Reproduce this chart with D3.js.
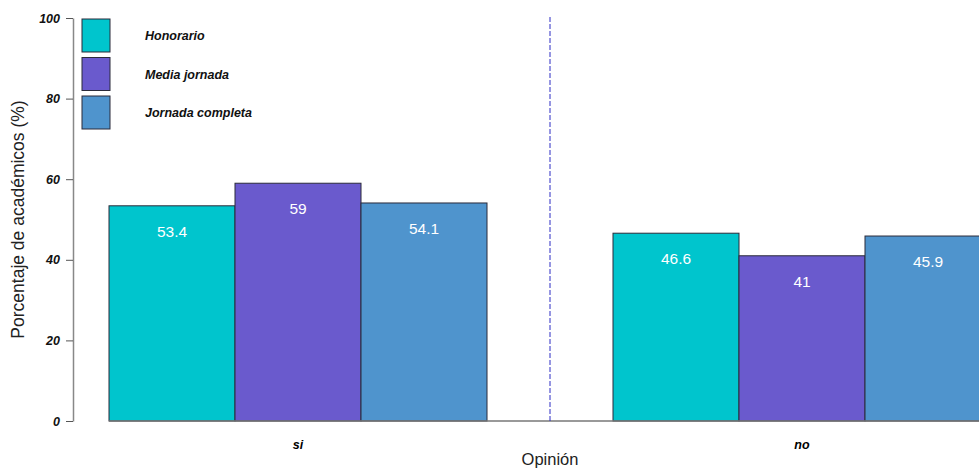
<!DOCTYPE html>
<html>
<head>
<meta charset="utf-8">
<script src="https://cdn.jsdelivr.net/npm/d3@7"></script>
<style>
  body { margin:0; background:#fff; }
  #canvas { width:979px; height:468px; }
  text { font-family: "Liberation Sans", Arial, sans-serif; }
</style>
</head>
<body>
<div id="canvas" class="canvas"></div>
<script>
// data
var opiniones = ['si', 'no'];
var tipos = ['Honorario', 'Media jornada', 'Jornada completa'];
var honorario = [53.4, 46.6];
var mediaJornada = [59, 41];
var jornadaCompleta = [54.1, 45.9];
var yTicks = [0, 20, 40, 60, 80, 100];

var colores = ['#00C5CD', '#6A5ACD', '#4F94CD'];
var series = [honorario, mediaJornada, jornadaCompleta];

var W = 979, H = 468;
var svg = d3.select('.canvas').append('svg')
    .attr('width', W).attr('height', H);

//scales
var scaleY = d3.scaleLinear().domain([0, 100]).range([421, 18]);
var scaleX = d3.scaleBand().domain(opiniones).range([46, 1054])
    .paddingInner(0.25).paddingOuter(0.125);
var scaleSub = d3.scaleBand().domain(tipos).range([0, scaleX.bandwidth()]);

//bars
var rows = [];
opiniones.forEach(function(o, i){
    tipos.forEach(function(t, j){
        rows.push({op:o, tipo:t, val:series[j][i], color:colores[j]});
    });
});

var bars = svg.selectAll('g.bar').data(rows).enter().append('g').attr('class','bar');
bars.append('rect')
    .attr('x', function(d){ return scaleX(d.op) + scaleSub(d.tipo); })
    .attr('y', function(d){ return scaleY(d.val); })
    .attr('width', scaleSub.bandwidth())
    .attr('height', function(d){ return scaleY(0) - scaleY(d.val); })
    .style('fill', function(d){ return d.color; })
    .style('stroke', '#2b2b3a')
    .style('stroke-width', 1);
bars.append('text')
    .attr('x', function(d){ return scaleX(d.op) + scaleSub(d.tipo) + scaleSub.bandwidth()/2; })
    .attr('y', function(d){ return scaleY(d.val) + 31; })
    .attr('text-anchor', 'middle')
    .style('fill', '#fff')
    .style('font-size', '15.5px')
    .text(function(d){ return d.val; });

// baseline (gray)
svg.append('line')
    .attr('x1', scaleX('si')).attr('x2', W)
    .attr('y1', scaleY(0)).attr('y2', scaleY(0))
    .style('stroke', '#777').style('stroke-width', 1.5);

//axis
var axisY = d3.axisLeft(scaleY).tickValues(yTicks).tickSize(7).tickSizeOuter(0);
var gy = svg.append('g').attr('transform', 'translate(73,0)').call(axisY);
gy.select('.domain').style('stroke', '#888').style('stroke-width', 1.5);
gy.selectAll('.tick line').style('stroke', '#555');
gy.selectAll('.tick text')
    .attr('x', -13)
    .style('font-family', '"Liberation Sans", Arial, sans-serif')
    .style('font-size', '12.5px')
    .style('font-weight', 'bold')
    .style('font-style', 'italic')
    .style('fill', '#111');

// category labels
svg.selectAll('text.cat').data(opiniones).enter().append('text')
    .attr('class', 'cat')
    .attr('x', function(d){ return scaleX(d) + scaleX.bandwidth()/2; })
    .attr('y', 449)
    .attr('text-anchor', 'middle')
    .style('font-size', '12.5px').style('font-weight', 'bold').style('font-style', 'italic')
    .text(function(d){ return d; });

// divider
var midX = (scaleX('si') + scaleX.bandwidth() + scaleX('no')) / 2;
svg.append('line')
    .attr('x1', midX).attr('x2', midX)
    .attr('y1', 17).attr('y2', scaleY(0))
    .style('stroke', '#2c2cc4').style('stroke-width', 1)
    .style('stroke-dasharray', '5,2');

// titles
svg.append('text')
    .attr('x', midX).attr('y', 465)
    .attr('text-anchor', 'middle')
    .style('font-size', '16.5px').style('fill', '#222')
    .text('Opinión');
svg.append('text')
    .attr('transform', 'translate(24,' + scaleY(50) + ') rotate(-90)')
    .attr('text-anchor', 'middle')
    .style('font-size', '17.5px').style('fill', '#222')
    .text('Porcentaje de académicos (%)');

// legend
var legend = svg.selectAll('g.leg').data(tipos).enter().append('g')
    .attr('class', 'leg')
    .attr('transform', function(d, i){ return 'translate(82,' + (19 + i*38.5) + ')'; });
legend.append('rect')
    .attr('width', 28).attr('height', 33)
    .style('fill', function(d, i){ return colores[i]; })
    .style('stroke', '#2b2b3a');
legend.append('text')
    .attr('x', 63).attr('y', 21)
    .style('font-size', '12.5px').style('font-weight', 'bold').style('font-style', 'italic')
    .style('fill', '#111')
    .text(function(d){ return d; });
</script>
</body>
</html>
